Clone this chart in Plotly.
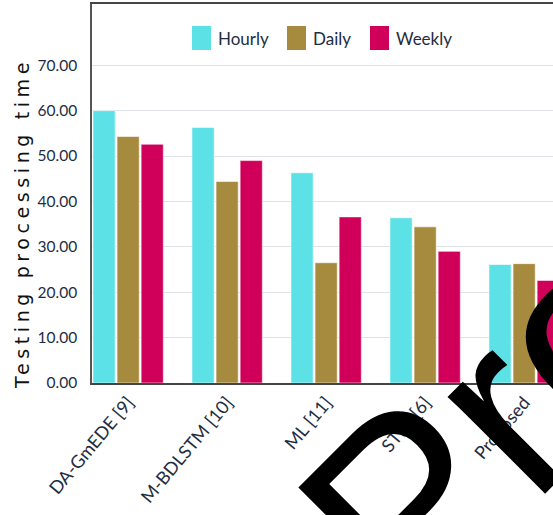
import plotly.graph_objects as go

categories = ["DA-GmEDE [9]", "M-BDLSTM [10]", "ML [11]", "STLF [6]", "Proposed"]
series_names = ["Hourly", "Daily", "Weekly"]
hourly = [60.0, 56.3, 46.3, 36.4, 26.1]
daily = [54.3, 44.4, 26.5, 34.4, 26.3]
weekly = [52.6, 49.0, 36.6, 29.0, 22.6]
colors = ["#5ce1e6", "#a68b3f", "#d0005a"]
y_ticks = [0, 10, 20, 30, 40, 50, 60, 70]

W, H = 553, 515
L, R, T, B = 92, 0, 4, 132
PW, PH = W - L - R, H - T - B

def px_x(px):
    return (px - L) / PW

def px_y(py):
    return (H - B - py) / PH

fig = go.Figure()
for name, vals, col in zip(series_names, [hourly, daily, weekly], colors):
    fig.add_trace(go.Bar(
        x=categories, y=vals, name=name,
        marker=dict(color=col, line=dict(color="rgba(255,255,255,0.55)", width=1)),
        showlegend=False,
    ))

# manual legend
leg_swatch_x = [192, 287, 370]
for name, col, sx in zip(series_names, colors, leg_swatch_x):
    fig.add_shape(type="rect", xref="paper", yref="paper",
                  x0=px_x(sx), x1=px_x(sx + 19), y0=px_y(50), y1=px_y(26),
                  fillcolor=col, line=dict(width=0))
    fig.add_annotation(xref="paper", yref="paper", x=px_x(sx + 24), y=px_y(38),
                       text=name, showarrow=False, xanchor="left", yanchor="middle",
                       font=dict(family="Lato", size=17, color="#1e2d3f"))

# y title
fig.add_annotation(xref="paper", yref="paper", x=px_x(22), y=px_y(224),
                   text='<span style="letter-spacing:4.6px">Testing processing time</span>',
                   showarrow=False, textangle=-90, xanchor="center", yanchor="middle",
                   font=dict(family="DejaVu Sans", size=19, color="#111111"))

# large overlaid text
fig.add_annotation(xref="paper", yref="paper", x=px_x(740), y=px_y(173),
                   text="Proposed", showarrow=False, textangle=-45,
                   xanchor="center", yanchor="middle",
                   font=dict(family="Liberation Sans", size=260, color="#000000"))

fig.update_layout(
    width=W, height=H,
    margin=dict(l=L, r=R, t=T, b=B, pad=0),
    paper_bgcolor="white", plot_bgcolor="white",
    barmode="group", bargap=0.27, bargroupgap=0.08,
    font=dict(family="Lato", color="#1e2d3f"),
)
fig.update_xaxes(
    range=[-0.365, -0.365 + PW / 99.0],
    tickangle=-50, tickfont=dict(size=18, color="#1e2d3f"),
    showline=True, linecolor="#454545", linewidth=2, mirror=True,
    showgrid=False, ticks="",
)
fig.update_yaxes(
    range=[0, 83.5], tickvals=y_ticks, ticktext=[f"{v:.2f}" for v in y_ticks],
    tickfont=dict(size=15.5, color="#1e2d3f"), ticklabelstandoff=10,
    showline=True, linecolor="#555555", linewidth=1.5,
    showgrid=True, gridcolor="#dfe3e8", gridwidth=1.2,
    zeroline=False, ticks="",
)

fig.write_html("out.html")
